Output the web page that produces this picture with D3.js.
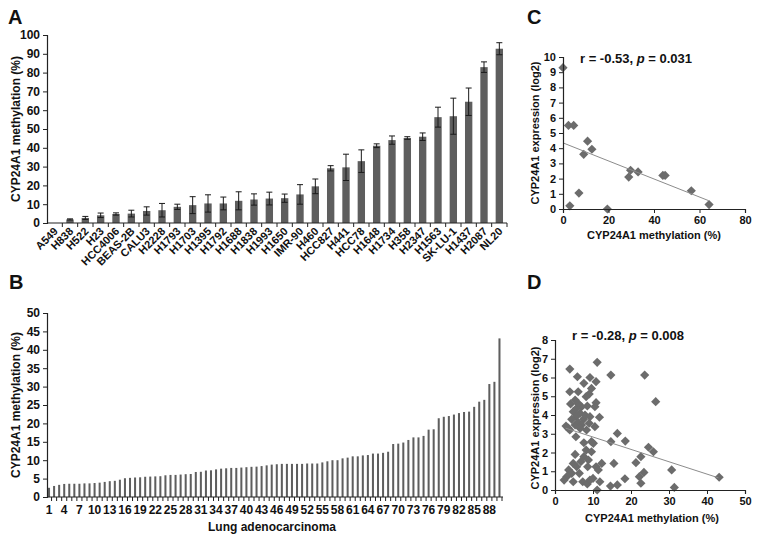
<!DOCTYPE html>
<html><head><meta charset="utf-8">
<script src="https://cdn.jsdelivr.net/npm/d3@7"></script>
<style>body{margin:0;background:#fff}svg text{font-family:"Liberation Sans",Arial,sans-serif;fill:#111}</style>
</head><body><svg id="c" width="760" height="542"></svg>
<script>
// ---- Panel A: cell lines ----
const cellLines = ["A549","H838","H522","H23","HCC4006","BEAS-2B","CALU3","H2228","H1793","H1703","H1395","H1792","H1688","H1838","H1993","H1650","IMR-90","H460","HCC827","H441","HCC78","H1648","H1734","H358","H2347","H1563","SK-LU-1","H1437","H2087","NL20"];
const cellMeth = [0,1.9,2.7,4.1,4.8,5.0,6.4,6.8,8.6,9.5,10.4,10.4,11.8,12.5,13.0,13.2,15.2,19.5,29.1,29.6,32.9,41.1,44.1,45.2,45.9,56.3,56.8,64.5,82.9,92.7];
const cellErr  = [0,0.3,0.8,1.2,0.6,1.8,2.2,3.6,1.4,4.5,4.6,3.4,4.8,3.0,3.4,2.2,5.2,3.9,1.4,7.0,6.0,1.0,2.2,0.7,2.0,5.3,9.6,7.3,2.8,3.2];
const yTicksA = [0,10,20,30,40,50,60,70,80,90,100];

// ---- Panel B: tumours ----
const tumorMeth = [2.5,3.0,3.3,3.55,3.6,3.6,3.6,3.7,3.7,3.8,
 3.9,4.1,4.3,4.4,4.7,5.1,5.2,5.3,5.35,5.5,
 5.55,5.6,5.65,5.9,6.0,6.0,6.1,6.2,6.25,6.8,
 6.85,7.2,7.25,7.5,7.7,7.8,7.9,7.9,8.0,8.1,
 8.2,8.25,8.4,8.6,8.8,8.9,9.0,9.0,9.0,9.0,
 9.0,9.1,9.1,9.1,9.4,9.7,10.0,10.0,10.5,10.7,
 11.05,11.05,11.3,11.4,11.8,11.8,12.0,12.3,14.4,14.5,
 14.8,15.5,16.2,16.2,16.6,18.3,18.4,21.4,21.8,22.0,
 22.4,22.8,23.1,23.2,24.5,25.9,26.4,30.7,31.3,43.1];
const tumorIds = tumorMeth.map((d,i)=>i+1);
const tumorTickLabels = [1,4,7,10,13,16,19,22,25,28,31,34,37,40,43,46,49,52,55,58,61,64,67,70,73,76,79,82,85,88];
const yTicksB = [0,5,10,15,20,25,30,35,40,45,50];

// ---- Panel C: cell line scatter ----
const cX = [0,2.4,4.7,3.0,7.0,10.8,9.1,12.7,19.5,28.9,29.7,33.0,43.9,44.9,56.4,64.2];
const cY = [9.3,5.5,5.5,0.21,1.05,4.46,3.6,3.93,0.0,2.1,2.55,2.44,2.21,2.21,1.2,0.29];
const trendC = [[0,4.35],[64,0.55]];
const xTicksC = [0,20,40,60,80];
const yTicksC = [0,1,2,3,4,5,6,7,8,9,10];

// ---- Panel D: tumour scatter ----
const dX = [11.1,3.9,14.7,23.6,5.9,9.2,7.6,10.8,3.9,6.1,9.0,8.2,9.6,26.5,4.1,10.8,8.5,7.0,5.7,4.8,6.6,11.7,5.5,4.4,7.5,9.0,10.5,2.9,3.9,6.1,5.3,7.0,5.5,16.4,14.7,7.6,18.5,8.2,10.1,9.6,5.3,24.6,25.9,22.6,7.6,8.8,6.8,12.3,10.8,15.5,4.8,3.6,5.7,8.6,21.3,23.4,22.2,18.4,43.2,3.1,4.4,4.8,2.4,7.3,8.5,9.2,11.1,11.8,14.6,16.4,22.6,30.7,31.4,5.3,6.1,7.9,9.2,6.6,8.3,9.6,10.5,10.0,11.4,6.4,3.5];
const dY = [6.81,6.45,6.13,6.13,6.04,6.0,5.69,5.78,5.24,5.24,5.12,4.98,5.42,4.71,4.59,4.66,4.48,4.44,4.36,4.18,4.09,3.88,3.91,3.77,3.77,3.56,3.38,3.41,3.2,3.59,3.47,3.47,2.84,3.02,2.58,2.52,2.61,2.13,2.49,2.04,1.9,2.28,2.04,1.78,1.78,1.6,1.51,1.42,1.24,1.42,1.42,1.07,1.24,1.24,1.46,0.94,0.71,0.6,0.68,0.71,0.89,0.44,0.53,0.44,0.32,0.53,0.0,0.44,0.21,0.27,0.36,1.07,0.14,4.8,4.62,4.0,3.91,3.29,3.2,2.58,4.44,0.62,1.07,0.89,3.3];
const trendD = [[2.8,3.3],[43,0.65]];
const xTicksD = [0,10,20,30,40,50];
const yTicksD = [0,1,2,3,4,5,6,7,8];

const svg = d3.select("#c");
const BAR = "#5e5e5e", DOT = "#6c6c6c", AX = "#222";

function styleAxis(g, size, weight){
  g.selectAll("path.domain").attr("stroke", AX).attr("stroke-width",1.2);
  g.selectAll(".tick line").attr("stroke", AX).attr("stroke-width",1);
  g.selectAll(".tick text").attr("font-size", size).attr("font-weight", weight||"bold").attr("fill","#111");
}
function panelLabel(t,x,y){ svg.append("text").attr("x",x).attr("y",y).attr("font-size",20).attr("font-weight","bold").text(t); }

// ===== Panel A =====
{
  const x = d3.scaleBand().domain(cellLines).range([47,507]).paddingInner(0.52).paddingOuter(0.26);
  const y = d3.scaleLinear().domain([0,100]).range([223,35]);
  const g = svg.append("g");
  g.selectAll("rect.bar").data(cellLines).join("rect").attr("class","bar")
    .attr("x",d=>x(d)).attr("width",x.bandwidth())
    .attr("y",(d,i)=>y(cellMeth[i])).attr("height",(d,i)=>y(0)-y(cellMeth[i])).attr("fill",BAR);
  const eb = g.selectAll("g.err").data(cellLines.filter((d,i)=>cellErr[i]>0)).join("g").attr("class","err");
  const idx = d => cellLines.indexOf(d);
  eb.append("line").attr("x1",d=>x(d)+x.bandwidth()/2).attr("x2",d=>x(d)+x.bandwidth()/2)
    .attr("y1",d=>y(cellMeth[idx(d)]-cellErr[idx(d)])).attr("y2",d=>y(cellMeth[idx(d)]+cellErr[idx(d)]))
    .attr("stroke","#1a1a1a").attr("stroke-width",1);
  [1,-1].forEach(s=>{
    eb.append("line").attr("x1",d=>x(d)+x.bandwidth()/2-3).attr("x2",d=>x(d)+x.bandwidth()/2+3)
      .attr("y1",d=>y(cellMeth[idx(d)]+s*cellErr[idx(d)])).attr("y2",d=>y(cellMeth[idx(d)]+s*cellErr[idx(d)]))
      .attr("stroke","#1a1a1a").attr("stroke-width",1);
  });
  const ya = svg.append("g").attr("transform","translate(47,0)").call(d3.axisLeft(y).tickValues(yTicksA).tickSize(4).tickPadding(3));
  styleAxis(ya,12);
  const xa = svg.append("g");
  xa.append("line").attr("x1",47).attr("x2",507).attr("y1",223).attr("y2",223).attr("stroke",AX).attr("stroke-width",1.2);
  const gap = (x.step()-x.bandwidth())/2;
  xa.selectAll("line.t").data(cellLines).join("line").attr("class","t")
    .attr("x1",d=>x(d)+x.bandwidth()+gap).attr("x2",d=>x(d)+x.bandwidth()+gap)
    .attr("y1",223).attr("y2",227).attr("stroke",AX);
  xa.selectAll("text").data(cellLines).join("text")
    .attr("transform",d=>`translate(${x(d)+x.bandwidth()/2+4},${232}) rotate(-45)`)
    .attr("text-anchor","end").attr("font-size",11).attr("font-weight","bold").text(d=>d);
  svg.append("text").attr("transform","translate(20,129) rotate(-90)").attr("text-anchor","middle")
    .attr("font-size",12).attr("font-weight","bold").text("CYP24A1 methylation (%)");
  panelLabel("A",8,24);
}

// ===== Panel B =====
{
  const x = d3.scaleBand().domain(tumorIds).range([46.5,502]).paddingInner(0.6).paddingOuter(0.3);
  const y = d3.scaleLinear().domain([0,50]).range([497,313]);
  svg.append("g").selectAll("rect").data(tumorIds).join("rect")
    .attr("x",d=>x(d)).attr("width",x.bandwidth())
    .attr("y",(d,i)=>y(tumorMeth[i])).attr("height",(d,i)=>y(0)-y(tumorMeth[i])).attr("fill",BAR);
  const ya = svg.append("g").attr("transform","translate(47,0)").call(d3.axisLeft(y).tickValues(yTicksB).tickSize(4).tickPadding(3));
  styleAxis(ya,12);
  const xa = svg.append("g");
  xa.append("line").attr("x1",47).attr("x2",503).attr("y1",497).attr("y2",497).attr("stroke",AX).attr("stroke-width",1.2);
  const gap = (x.step()-x.bandwidth())/2;
  xa.selectAll("line.t").data(tumorIds).join("line").attr("class","t")
    .attr("x1",d=>x(d)+x.bandwidth()+gap).attr("x2",d=>x(d)+x.bandwidth()+gap)
    .attr("y1",497).attr("y2",501).attr("stroke",AX);
  xa.selectAll("text").data(tumorTickLabels).join("text")
    .attr("x",d=>x(d)+x.bandwidth()/2).attr("y",514).attr("text-anchor","middle")
    .attr("font-size",12).attr("font-weight","bold").text(d=>d);
  svg.append("text").attr("x",272).attr("y",531).attr("text-anchor","middle")
    .attr("font-size",12).attr("font-weight","bold").text("Lung adenocarcinoma");
  svg.append("text").attr("transform","translate(20,405) rotate(-90)").attr("text-anchor","middle")
    .attr("font-size",12).attr("font-weight","bold").text("CYP24A1 methylation (%)");
  panelLabel("B",9,289);
}

const diamond = "M0,-4.6L4.6,0L0,4.6L-4.6,0Z";

function scatter(xs, ys, trend, xDom, xR, yDom, yR, xT, yT, title, titleX, titleY, lblYx, lblYy, lblXy, xlabCx){
  const x = d3.scaleLinear().domain(xDom).range(xR);
  const y = d3.scaleLinear().domain(yDom).range(yR);
  const g = svg.append("g");
  const xa = svg.append("g").attr("transform",`translate(0,${yR[0]})`).call(d3.axisBottom(x).tickValues(xT).tickSize(4).tickPadding(3));
  styleAxis(xa,11);
  const ya = svg.append("g").attr("transform",`translate(${xR[0]},0)`).call(d3.axisLeft(y).tickValues(yT).tickSize(4).tickPadding(3));
  styleAxis(ya,11);
  g.selectAll("path").data(xs).join("path").attr("d",diamond)
    .attr("transform",(d,i)=>`translate(${x(d)},${y(ys[i])})`).attr("fill",DOT);
  g.append("line").attr("x1",x(trend[0][0])).attr("y1",y(trend[0][1]))
    .attr("x2",x(trend[1][0])).attr("y2",y(trend[1][1])).attr("stroke","#8c8c8c").attr("stroke-width",1);
  const t = svg.append("text").attr("x",titleX).attr("y",titleY).attr("text-anchor","middle")
    .attr("font-size",13).attr("font-weight","bold");
  t.append("tspan").text(title[0]);
  t.append("tspan").attr("font-style","italic").text("p");
  t.append("tspan").text(title[1]);
  svg.append("text").attr("transform",`translate(${lblYx},${lblYy}) rotate(-90)`).attr("text-anchor","middle")
    .attr("font-size",11).attr("font-weight","bold").text("CYP24A1 expression (log2)");
  svg.append("text").attr("x",xlabCx).attr("y",lblXy).attr("text-anchor","middle")
    .attr("font-size",11).attr("font-weight","bold").text("CYP24A1 methylation (%)");
}

scatter(cX,cY,trendC,[0,80],[563,745],[0,10],[209,57],xTicksC,yTicksC,
  ["r = -0.53, ",  " = 0.031"], 636, 63, 539, 133, 239, 654);
panelLabel("C",527,24);

scatter(dX,dY,trendD,[0,50],[555,745],[0,8],[490,340],xTicksD,yTicksD,
  ["r = -0.28, ", " = 0.008"], 628, 340, 539, 418, 522, 652);
panelLabel("D",527,289);
</script></body></html>
